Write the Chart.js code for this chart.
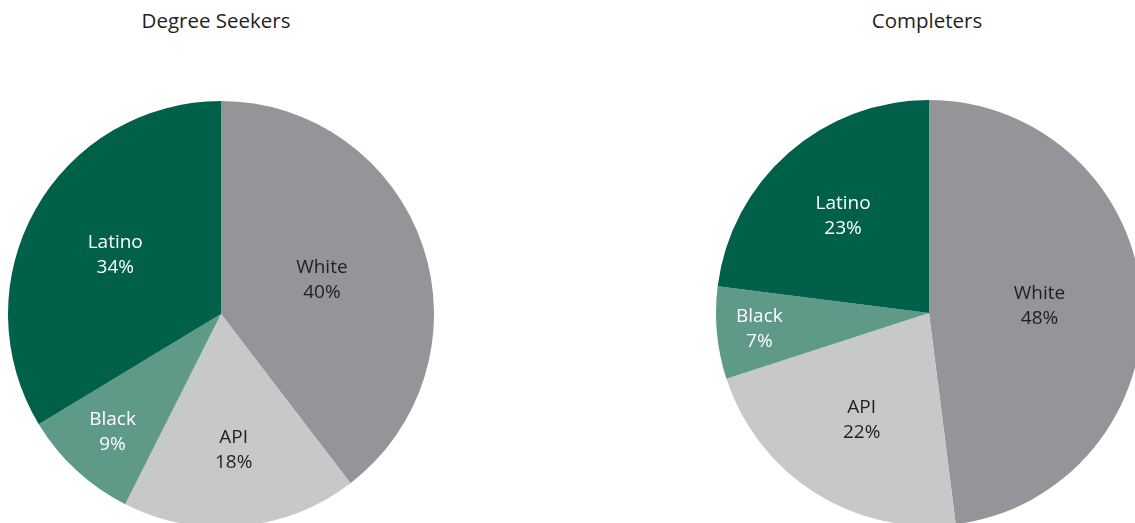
<!DOCTYPE html>
<html>
<head>
<meta charset="utf-8">
<script src="https://cdn.jsdelivr.net/npm/chart.js@4/dist/chart.umd.min.js"></script>
<style>
  html, body { margin: 0; padding: 0; background: #fff; overflow: hidden; width: 1135px; height: 523px; }
  .title { position: absolute; top: 6px; font-family: "Open Sans", "Noto Sans", sans-serif; font-size: 20.5px; color: #231f20; transform: translateX(-50%); white-space: nowrap; }
  .pie { position: absolute; width: 426px; height: 426px; }
</style>
</head>
<body>
<div class="title" style="left:216px">Degree Seekers</div>
<div class="title" style="left:927px">Completers</div>
<div class="pie" style="left:8px; top:101px"><canvas id="seekersChart"></canvas></div>
<div class="pie" style="left:716px; top:100px"><canvas id="completersChart"></canvas></div>
<script>
// ----------------- Data -----------------
const groups = ['White', 'API', 'Black', 'Latino'];
const seekerShares = [40, 18, 9, 34];
const completerShares = [48, 22, 7, 23];
const sliceColors = ['#939598', '#c7c8ca', '#5f9987', '#00604a'];
const textColors = ['#231f20', '#231f20', '#ffffff', '#ffffff'];

// draws "Group / NN%" inside each slice
const sliceLabels = {
  id: 'sliceLabels',
  afterDatasetsDraw(chart, args, opts) {
    const { ctx } = chart;
    const meta = chart.getDatasetMeta(0);
    const values = chart.data.datasets[0].data;
    ctx.save();
    ctx.font = '19px "Open Sans", "Noto Sans", sans-serif';
    ctx.textAlign = 'center';
    ctx.textBaseline = 'middle';
    meta.data.forEach((arc, i) => {
      const mid = (arc.startAngle + arc.endAngle) / 2;
      const r = arc.outerRadius * (opts.radius[i] || 0.5);
      const x = arc.x + Math.cos(mid) * r;
      const y = arc.y + Math.sin(mid) * r;
      ctx.fillStyle = textColors[i];
      ctx.fillText(chart.data.labels[i], x, y - 12);
      ctx.fillText(values[i] + '%', x, y + 13);
    });
    ctx.restore();
  }
};

function makePie(canvasId, values, labelRadius) {
  new Chart(document.getElementById(canvasId), {
    type: 'pie',
    data: {
      labels: groups,
      datasets: [{ data: values, backgroundColor: sliceColors, borderWidth: 0 }]
    },
    options: {
      responsive: true,
      maintainAspectRatio: false,
      animation: false,
      layout: { padding: 0 },
      plugins: {
        legend: { display: false },
        tooltip: { enabled: false },
        sliceLabels: { radius: labelRadius }
      }
    },
    plugins: [sliceLabels]
  });
}

// ----------------- Init -----------------
makePie('seekersChart', seekerShares, [0.5, 0.64, 0.75, 0.57]);
makePie('completersChart', completerShares, [0.52, 0.59, 0.8, 0.61]);
</script>
</body>
</html>
